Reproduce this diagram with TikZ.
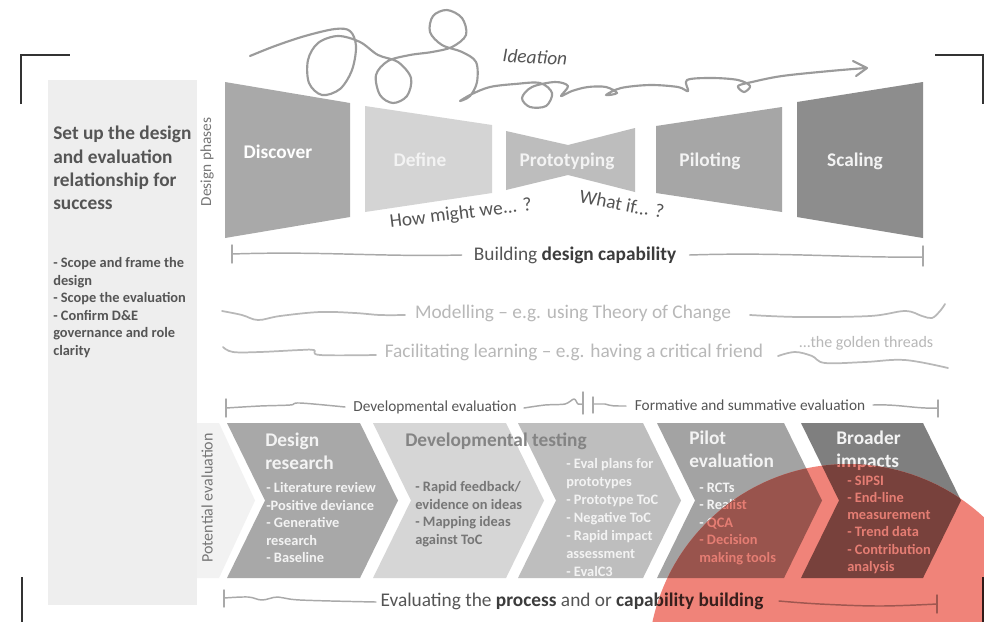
\documentclass[tikz,border=0pt]{standalone}
\usepackage{fontspec}
\setmainfont{Carlito}
\definecolor{panel}{HTML}{EEEEEE}
\definecolor{band}{HTML}{F2F2F2}
\definecolor{cdiscover}{HTML}{A9A9A9}
\definecolor{cdefine}{HTML}{D4D4D4}
\definecolor{cproto}{HTML}{BDBDBD}
\definecolor{cpilot}{HTML}{A6A6A6}
\definecolor{cscale}{HTML}{8D8D8D}
\definecolor{chA}{HTML}{A8A8A8}
\definecolor{chB}{HTML}{D6D6D6}
\definecolor{chC}{HTML}{BEBEBE}
\definecolor{chD}{HTML}{A3A3A3}
\definecolor{chE}{HTML}{7F7F7F}
\definecolor{darktext}{HTML}{555555}
\definecolor{boldtext}{HTML}{3C3C3C}
\definecolor{lighttext}{HTML}{B8B8B8}
\definecolor{midtext}{HTML}{767676}
\definecolor{linegray}{HTML}{A9A9A9}
\definecolor{scrib}{HTML}{9B9B9B}
\definecolor{whitish}{HTML}{F3F3F3}
\definecolor{cornergray}{HTML}{333333}
% tinted (under the red disc) versions
\definecolor{discred}{RGB}{240,131,121}
\definecolor{chDt}{RGB}{153,84,77}
\definecolor{chEt}{RGB}{120,65,60}
\definecolor{whitisht}{RGB}{229,125,115}
\definecolor{darkt}{RGB}{80,44,40}
\definecolor{boldt}{RGB}{56,31,28}
\definecolor{linet}{RGB}{159,87,80}
\definecolor{cornert}{RGB}{48,26,24}
\newcommand\fsBig{\fontsize{14.5}{17.5}\selectfont}
\newcommand\fsSmall{\fontsize{10.8}{13.1}\selectfont}
\newcommand\fsMid{\fontsize{11.5}{14}\selectfont}
\begin{document}
\begin{tikzpicture}[x=0.75pt,y=-0.75pt,
  txt/.style={inner sep=0pt, anchor=north west, align=left},
  phase/.style={inner sep=0pt, font=\fsBig\bfseries, text=white},
  lbl/.style={inner sep=0pt},
  bracketline/.style={draw=linegray, line width=1.1pt, line cap=round, line join=round},
  thread/.style={draw=lighttext, line width=1.3pt, line cap=round, line join=round},
  cornermark/.style={draw=cornergray, line width=1.1pt},
  ctitle/.style={txt, font=\fontsize{14.5}{17.3}\selectfont\bfseries},
  clist/.style={txt, font=\fsSmall\bfseries}
]
\useasboundingbox (0,0) rectangle (984,622);
\fill[white] (0,0) rectangle (984,622);

% corner marks
\draw[cornermark] (21,104) -- (21,55) -- (70,55);
\draw[cornermark] (935,55) -- (983,55) -- (983,104);
\draw[cornermark] (22,577) -- (22,622);
\draw[cornermark] (983,577) -- (983,622);

% left panel
\fill[panel] (48,80) rectangle (197,605);
\fill[band] (197,423) -- (219,423) -- (255,500.5) -- (219,578) -- (197,578) -- cycle;

\node[txt, text=darktext, font=\fsBig\bfseries] (ptitle) at (53,126)
  {Set up the design\\and evaluation\\relationship for\\success};
\node[txt, text=darktext, font=\fsSmall\bfseries] (pbullets) at (53,257.5)
  {- Scope and frame the\\design\\- Scope the evaluation\\- Confirm D\&E\\governance and role\\clarity};

% rotated side labels
\node[lbl, rotate=90, text=midtext, font=\fsMid] (dphases) at (207,162) {Design phases};
\node[lbl, rotate=90, text=midtext, font=\fontsize{12}{14}\selectfont] (peval) at (207,498) {Potential evaluation};

% ideation scribble
\draw[scrib, line width=1.6pt, line cap=round, line join=round] plot[smooth, tension=0.55] coordinates {
 (250,56) (275,46) (305,36) (335,29) (350,31) (356,46) (352,70) (340,89) (322,95) (309,83) (308,60) (318,43) (338,36) (360,42) (378,55) (398,62) (411,78) (407,96) (393,103) (380,95) (376,75) (388,61) (410,55) (432,52) (452,47) (466,35) (462,18) (447,10) (433,16) (430,32) (442,45) (462,52) (476,62) (477,82) (470,96) (460,101) (472,94) (490,87) (515,84) (540,83) (552,93) (546,106) (530,107) (522,98) (532,87) (555,82) (568,86) (561,96) (572,91) (588,87) (606,87) (617,93) (606,95) (621,88) (650,85) (678,87) (688,91) (687,80) (712,78) (738,80) (750,86) (744,92) (738,86) (752,82) (782,76) (830,71) (866,68)};
\coordinate (tip) at (867,68);
\draw[scrib, line width=1.6pt, line cap=round, line join=round] (853,61) -- (tip) -- (856,76);
\node[lbl, rotate=-3, text=darktext, font=\fsBig\itshape] (ideation) at (535,57) {Ideation};

% design phases
\fill[cdiscover] (225,82) -- (350,103) -- (350,217) -- (225,238) -- cycle;
\fill[cdefine] (365,106) -- (492,125) -- (492,193) -- (365,212) -- cycle;
\fill[cproto] (506,131) -- (568,145) -- (635,128) -- (635,192) -- (568,175) -- (506,190) -- cycle;
\fill[cpilot] (656,126) -- (782,107) -- (782,212) -- (656,193) -- cycle;
\fill[cscale] (797,102) -- (923,82) -- (923,238) -- (797,217) -- cycle;
\node[phase] (discover) at (278,152) {Discover};
\node[phase, text=whitish] (define) at (420,160) {Define};
\node[phase, text=whitish] (prototyping) at (567,161) {Prototyping};
\node[phase, text=whitish] (piloting) at (710,161) {Piloting};
\node[phase, text=whitish] (scaling) at (855,161) {Scaling};

\node[lbl, rotate=7, text=darktext, font=\fsBig] (howmight) at (461,214) {How might we... ?};
\node[lbl, rotate=-11, text=darktext, font=\fsBig] (whatif) at (622,204) {What if... ?};

% building design capability
\node[lbl, text=darktext, font=\fsBig] (build) at (575,255) {Building \textcolor{boldtext}{\bfseries design capability}};
\coordinate (bL) at (232,254);
\coordinate (bR) at (923,257);
\draw[bracketline] (232,245) -- (232,263);
\draw[bracketline] (923,246) -- (923,266);
\draw[bracketline] (bL) .. controls (320,251) and (380,257) .. ([xshift=-9pt]build.west);
\draw[bracketline] ([xshift=10pt]build.east) .. controls (780,252) and (850,258) .. (bR);

% golden threads
\node[lbl, text=lighttext, font=\fsBig] (model) at (573,313) {Modelling -- e.g. using Theory of Change};
\node[lbl, text=lighttext, font=\fsBig] (facil) at (574,352) {Facilitating learning -- e.g. having a critical friend};
\node[lbl, text=lighttext, font=\fontsize{12}{14}\selectfont] (golden) at (866,343) {...the golden threads};
\coordinate (mL) at (222,311);
\coordinate (mR) at (945,304);
\coordinate (fL) at (223,347);
\coordinate (fR) at (948,368);
\draw[thread] plot[smooth, tension=0.6] coordinates {(mL) (242,315) (258,320) (280,316) (320,312) (355,313) (380,315) (405,315)};
\draw[thread] plot[smooth, tension=0.6] coordinates {(750,315) (800,317) (870,316) (905,311) (922,316) (932,318) (940,311) (mR)};
\draw[thread] plot[smooth, tension=0.6] coordinates {(fL) (233,352) (260,352) (300,350) (314,350) (320,355) (376,355)};
\draw[thread] plot[smooth, tension=0.6] coordinates {(778,356) (795,352) (812,356) (825,363) (865,362) (905,360) (fR)};

% developmental / formative evaluation
\node[lbl, text=darktext, font=\fsMid] (deveval) at (435,407) {Developmental evaluation};
\node[lbl, text=darktext, font=\fsMid] (formeval) at (750,405) {Formative and summative evaluation};
\coordinate (dL) at (226,408);
\coordinate (dR) at (583,404);
\coordinate (fsL) at (593,404);
\coordinate (fsR) at (938,408);
\draw[bracketline] (226,399) -- (226,417);
\draw[bracketline] (583,392) -- (583,414);
\draw[bracketline] (593,397) -- (593,413);
\draw[bracketline] (938,400) -- (938,417);
\draw[bracketline] plot[smooth, tension=0.6] coordinates {(dL) (260,406) (290,405) (300,403) (345,407)};
\draw[bracketline] plot[smooth, tension=0.5] coordinates {(524,408) (545,405) (565,404) (574,399) (578,404) (dR)};
\draw[bracketline] (fsL) -- (605,404) .. controls (612,406) .. (626,406);
\draw[bracketline] (873,405) .. controls (900,404) and (915,409) .. (fsR);

% chevrons
\fill[chA] (227,423) -- (360,423) -- (398,500.5) -- (360,578) -- (227,578) -- (265,500.5) -- cycle;
\fill[chB] (373,423) -- (506,423) -- (544,500.5) -- (506,578) -- (373,578) -- (411,500.5) -- cycle;
\fill[chC] (518,423) -- (643,423) -- (681,500.5) -- (643,578) -- (518,578) -- (556,500.5) -- cycle;
\fill[chD] (657,423) -- (784,423) -- (822,500.5) -- (784,578) -- (657,578) -- (695,500.5) -- cycle;
\fill[chE] (801,423) -- (923,423) -- (961,500.5) -- (923,578) -- (801,578) -- (839,500.5) -- cycle;

\node[ctitle, text=whitish] (c1title) at (265,433) {Design\\research};
\node[ctitle, text=midtext!90] (c2title) at (405,433) {Developmental testing};
\node[ctitle, text=whitish] (c4title) at (689,431) {Pilot\\evaluation};
\node[ctitle, text=whitish] (c5title) at (836,431) {Broader\\impacts};

\node[clist, text=whitish] (c1list) at (266,482.5) {- Literature review\\-Positive deviance\\- Generative\\research\\- Baseline};
\node[clist, text=midtext] (c2list) at (415,481.5) {- Rapid feedback/\\evidence on ideas\\- Mapping ideas\\against ToC};
\node[clist, text=whitish, font=\fontsize{10.8}{13.5}\selectfont\bfseries] (c3list) at (566,458.5) {- Eval plans for\\prototypes\\- Prototype ToC\\- Negative ToC\\- Rapid impact\\assessment\\- EvalC3};
\node[clist, text=whitish] (c4list) at (699,482.5) {- RCTs\\- Realist\\- QCA\\- Decision\\making tools};
\node[clist, text=whitish, font=\fontsize{10.8}{12.9}\selectfont\bfseries] (c5list) at (847,475.5) {- SIPSI\\- End-line\\measurement\\- Trend data\\- Contribution\\analysis};

% bottom bracket
\node[lbl, text=darktext, font=\fsBig] (evalproc) at (572,601) {Evaluating the \textcolor{boldtext}{\bfseries process} and or \textcolor{boldtext}{\bfseries capability building}};
\coordinate (eL) at (224,598);
\coordinate (eR) at (937,604);
\draw[bracketline] (224,590) -- (224,607);
\draw[bracketline] (937,595) -- (937,613);
\draw[bracketline] plot[smooth, tension=0.6] coordinates {(eL) (248,597) (262,600) (278,597) (300,600) (376,602)};
\draw[bracketline] plot[smooth, tension=0.6] coordinates {(779,601) (820,604) (880,606) (eR)};

% translucent red disc (multiplied colours drawn directly)
\begin{scope}
\clip (848,664) circle[radius=200];
\fill[fill=discred] (0,0) rectangle (984,622);
\fill[chDt] (657,423) -- (784,423) -- (822,500.5) -- (784,578) -- (657,578) -- (695,500.5) -- cycle;
\fill[chEt] (801,423) -- (923,423) -- (961,500.5) -- (923,578) -- (801,578) -- (839,500.5) -- cycle;
\node[ctitle, text=whitisht] (c5titleT) at (836,431) {Broader\\impacts};
\node[clist, text=whitisht] (c4listT) at (699,482.5) {- RCTs\\- Realist\\- QCA\\- Decision\\making tools};
\node[clist, text=whitisht, font=\fontsize{10.8}{12.9}\selectfont\bfseries] (c5listT) at (847,475.5) {- SIPSI\\- End-line\\measurement\\- Trend data\\- Contribution\\analysis};
\node[lbl, text=darkt, font=\fsBig] (evalprocT) at (572,601) {Evaluating the \textcolor{boldt}{\bfseries process} and or \textcolor{boldt}{\bfseries capability building}};
\draw[bracketline, draw=linet] (937,595) -- (937,613);
\draw[bracketline, draw=linet] plot[smooth, tension=0.6] coordinates {(779,601) (820,604) (880,606) (eR)};
\draw[cornermark, draw=cornert] (983,577) -- (983,622);
\end{scope}
\end{tikzpicture}
\end{document}
